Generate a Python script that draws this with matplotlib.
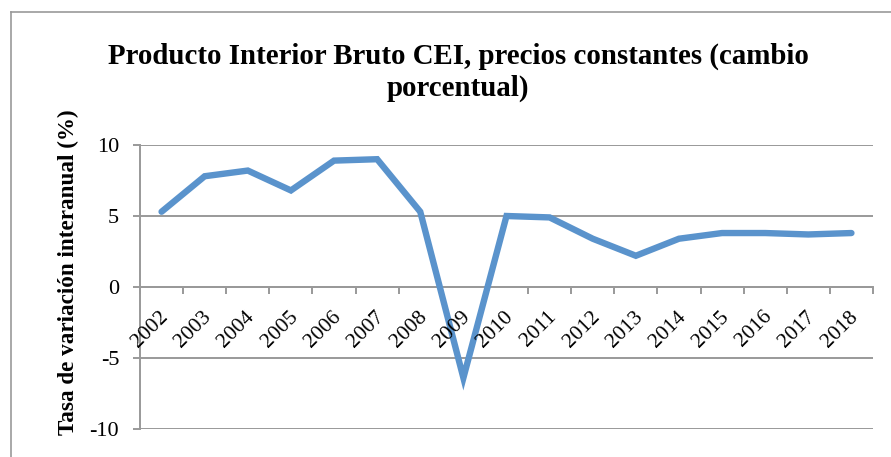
import matplotlib.pyplot as plt
from matplotlib.lines import Line2D
from matplotlib.transforms import ScaledTranslation

years = [str(y) for y in range(2002, 2019)]
growth = [5.3, 7.8, 8.2, 6.8, 8.9, 9.0, 5.3, -6.4, 5.0, 4.9, 3.4, 2.2, 3.4, 3.8, 3.8, 3.7, 3.8]
yticks = [-10, -5, 0, 5, 10]

plt.rcParams['font.family'] = ['Liberation Serif', 'DejaVu Serif']

fig = plt.figure(figsize=(8.91, 4.57), dpi=100)
ax = fig.add_axes([140 / 891, 1 - 429 / 457, (873 - 140) / 891, (429 - 145) / 457])

grid_col = '#999999'
xs = list(range(len(years)))
ax.plot(xs, growth, color='#5A93CC', lw=4.6, solid_joinstyle='miter', solid_capstyle='round', zorder=3)

ax.set_xlim(-0.5, len(years) - 0.5)
ax.set_ylim(-10, 10)
ax.set_yticks(yticks)
ax.set_yticklabels([str(v) for v in yticks], fontsize=16)
ax.yaxis.grid(True, color=grid_col, lw=1.4)
ax.set_axisbelow(True)
ax.tick_params(axis='y', direction='out', length=5, width=1.4, color=grid_col, pad=10)

# x axis at zero, ticks between categories
for s in ['top', 'right']:
    ax.spines[s].set_visible(False)
ax.spines['left'].set_color(grid_col)
ax.spines['left'].set_linewidth(1.4)
ax.spines['bottom'].set_position(('data', 0))
ax.spines['bottom'].set_color(grid_col)
ax.spines['bottom'].set_linewidth(1.4)
ax.set_xticks([i - 0.5 for i in range(len(years) + 1)])
ax.set_xticklabels([])
ax.tick_params(axis='x', direction='out', length=5, width=1.4, color=grid_col)
off = ScaledTranslation(4 / 100, -27 / 100, fig.dpi_scale_trans)
for i, y in enumerate(years):
    ax.text(i, 0, y, transform=ax.transData + off, rotation=45, rotation_mode='anchor',
            ha='right', va='center', fontsize=15.5)

ax.set_ylabel('Tasa de variación interanual (%)', fontsize=16.7, fontweight='bold')
ax.yaxis.set_label_coords(-(140 - 79) / (873 - 140), (429 - 272) / (429 - 145))

fig.suptitle('Producto Interior Bruto CEI, precios constantes (cambio\nporcentual)',
             x=458 / 891, y=1 - 43 / 457, va='top', fontsize=20.8, fontweight='bold', linespacing=1.2)

# outer chart border
fig.add_artist(Line2D([11 / 891, 11 / 891], [0, 1 - 12 / 457], color=grid_col, lw=1.2))
fig.add_artist(Line2D([11 / 891, 1], [1 - 12 / 457, 1 - 12 / 457], color=grid_col, lw=1.2))

fig.savefig('out.png', dpi=100)
